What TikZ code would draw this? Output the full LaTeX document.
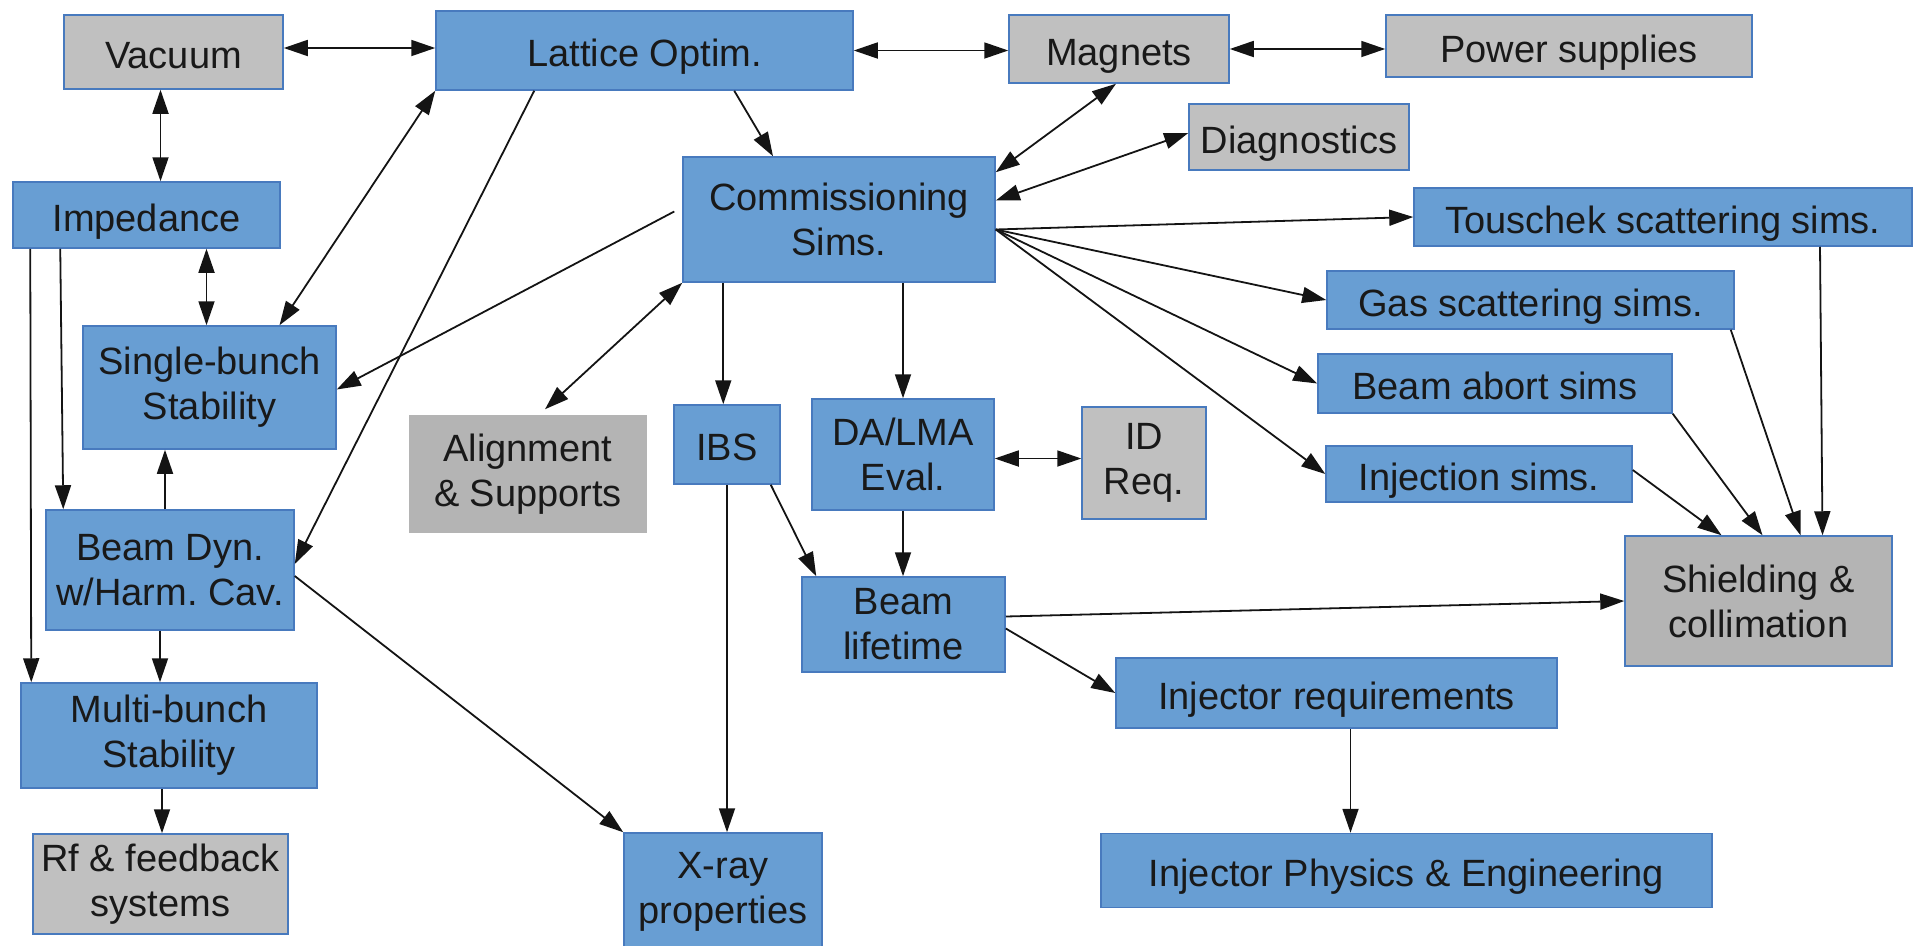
\documentclass[tikz,border=0pt]{standalone}
\usepackage{fontspec}
\setmainfont{Liberation Sans}
\frenchspacing
\usetikzlibrary{arrows.meta}
\definecolor{boxblue}{RGB}{104,158,211}
\definecolor{boxedge}{RGB}{72,122,190}
\definecolor{boxgray}{RGB}{192,192,192}
\definecolor{boxgrayd}{RGB}{180,180,180}
\definecolor{txt}{RGB}{25,25,25}
\definecolor{conn}{RGB}{20,20,20}
\tikzset{
  base/.style={inner sep=0pt, align=center, text=txt, font=\fontsize{38}{45}\selectfont\frenchspacing, line width=1.5pt},
  bbox/.style={base, fill=boxblue, draw=boxedge},
  gbox/.style={base, fill=boxgray, draw=boxedge},
  abox/.style={base, fill=boxgrayd},
  sbox/.style={base, fill=boxgrayd, draw=boxedge},
  one/.style={text height=32pt, text depth=0pt},
  wire/.style={draw=conn, line width=1.8pt},
  >={Triangle[length=24pt,width=16pt]}
}
\begin{document}
\begin{tikzpicture}[x=1pt,y=-1pt]
\useasboundingbox (0,0) rectangle (1921,945);
% nodes
\node[gbox, one, minimum width=219pt, minimum height=74pt] (vac) at (173.5,52) {Vacuum};
\node[bbox, one, minimum width=417pt, minimum height=79pt] (lat) at (644.5,50.5) {Lattice Optim.};
\node[gbox, one, minimum width=220pt, minimum height=68pt] (mag) at (1119,49) {Magnets};
\node[gbox, one, minimum width=366pt, minimum height=62pt] (pow) at (1569,46) {Power supplies};
\node[gbox, one, minimum width=220pt, minimum height=66pt] (diag) at (1299,137) {Diagnostics};
\node[bbox, one, minimum width=267pt, minimum height=66pt] (imp) at (146.5,215) {Impedance};
\node[bbox, minimum width=312pt, minimum height=125pt] (comm) at (839,219.5) {Commissioning\\Sims.};
\node[bbox, one, minimum width=498pt, minimum height=58pt] (tou) at (1663,217) {Touschek scattering sims.};
\node[bbox, one, minimum width=407pt, minimum height=58pt] (gas) at (1530.5,300) {Gas scattering sims.};
\node[bbox, one, minimum width=354pt, minimum height=59pt] (abort) at (1495,383.5) {Beam abort sims};
\node[bbox, minimum width=253pt, minimum height=123pt] (sb) at (209.5,387.5) {Single-bunch\\Stability};
\node[abox, minimum width=238pt, minimum height=118pt] (align) at (528,474) {Alignment\\\& Supports};
\node[bbox, one, minimum width=106pt, minimum height=79pt] (ibs) at (727,444.5) {IBS};
\node[bbox, minimum width=182pt, minimum height=111pt] (da) at (903,454.5) {DA/LMA\\Eval.};
\node[gbox, minimum width=124pt, minimum height=112pt] (id) at (1144,463) {ID\\Req.};
\node[bbox, one, minimum width=306pt, minimum height=56pt] (inj) at (1479,474) {Injection sims.};
\node[bbox, minimum width=248pt, minimum height=120pt] (bd) at (170,570) {Beam Dyn.\\w/Harm.\ Cav.};
\node[bbox, minimum width=203pt, minimum height=95pt] (life) at (903.5,624.5) {Beam\\lifetime};
\node[sbox, minimum width=267pt, minimum height=130pt] (shield) at (1758.5,601) {Shielding \&\\collimation};
\node[bbox, one, minimum width=441pt, minimum height=70pt] (injreq) at (1336.5,693) {Injector requirements};
\node[bbox, minimum width=296pt, minimum height=105pt] (mb) at (169,735.5) {Multi-bunch\\Stability};
\node[gbox, minimum width=255pt, minimum height=100pt] (rf) at (160.5,884) {Rf \& feedback\\systems};
\node[bbox, minimum width=198pt, minimum height=118pt] (xray) at (723,892) {X-ray\\properties};
\node[bbox, one, minimum width=611pt, minimum height=74pt] (injphys) at (1406.5,870.5) {Injector Physics \& Engineering};
% connectors
\draw[wire,<->] ([yshift=4pt]vac.east) -- ([yshift=4pt]vac.east -| lat.west);
\draw[wire,<->] (lat.east) -- (lat.east -| mag.west);
\draw[wire,<->] (mag.east) -- (mag.east -| pow.west);
\draw[wire,<->] ([xshift=-13pt]vac.south) -- ([xshift=-13pt]vac.south |- imp.north);
\draw[wire,<->] ([xshift=-3pt]sb.north |- imp.south) -- ([xshift=-3pt]sb.north);
\draw[wire,<->] (lat.south west) -- ([xshift=70pt]sb.north);
\draw[wire,->] ([xshift=99pt]lat.south west) -- ([yshift=6pt]bd.east);
\draw[wire,->] ([xshift=299pt]lat.south west) -- ([xshift=-66pt]comm.north);
\draw[wire,->] ([shift={(-8pt,8pt)}]comm.west) -- ([yshift=-2pt]sb.east);
\draw[wire,<->] (comm.south west) -- ([shift={(17pt,5pt)}]align.north);
\draw[wire,->] ([xshift=41pt]comm.south west) -- ([xshift=41pt]comm.south west |- ibs.north);
\draw[wire,->] ([xshift=64pt]comm.south) -- (da.north);
\draw[wire,<->] ([yshift=-16pt]comm.north east) -- ([xshift=-3pt]mag.south);
\draw[wire,<->] ([yshift=19pt]comm.east) -- ([yshift=4pt]diag.west);
\draw[wire,->] ([yshift=-10pt]comm.east) -- (tou.west);
\draw[wire,->] ([yshift=-10pt]comm.east) -- (gas.west);
\draw[wire,->] ([yshift=-10pt]comm.east) -- (abort.west);
\draw[wire,->] ([yshift=-10pt]comm.east) -- (inj.west);
\draw[wire,->] ([xshift=157pt]tou.south) -- ([xshift=64pt]shield.north);
\draw[wire,->] ([xshift=-4pt]gas.south east) -- ([xshift=42pt]shield.north);
\draw[wire,->] (abort.south east) -- ([xshift=4pt]shield.north);
\draw[wire,->] ([yshift=4pt]inj.east) -- ([xshift=-37pt]shield.north);
\draw[wire,->] ([yshift=8pt]life.east) -- (shield.west);
\draw[wire,->] ([yshift=-4pt]life.east) -- (injreq.west);
\draw[wire,->] ([xshift=14pt]injreq.south) -- ([xshift=14pt]injreq.south |- injphys.north);
\draw[wire,<->] ([yshift=-4pt]da.east) -- ([yshift=-4pt]da.east -| id.west);
\draw[wire,->] (da.south) -- (da.south |- life.north);
\draw[wire,->] ([xshift=-10pt]ibs.south east) -- ([xshift=15pt]life.north west);
\draw[wire,->] (ibs.south) -- (ibs.south |- xray.north);
\draw[wire,->] ([yshift=-6pt]bd.east) -- (xray.north west);
\draw[wire,->] ([xshift=48pt]imp.south west) -- ([xshift=18pt]bd.north west);
\draw[wire,->] ([xshift=18pt]imp.south west) -- ([xshift=11pt]mb.north west);
\draw[wire,->] ([xshift=-5pt]bd.north) -- ([xshift=-5pt]bd.north |- sb.south);
\draw[wire,->] ([xshift=-10pt]bd.south) -- ([xshift=-10pt]bd.south |- mb.north);
\draw[wire,->] ([xshift=-7pt]mb.south) -- ([xshift=-7pt]mb.south |- rf.north);
\end{tikzpicture}
\end{document}
